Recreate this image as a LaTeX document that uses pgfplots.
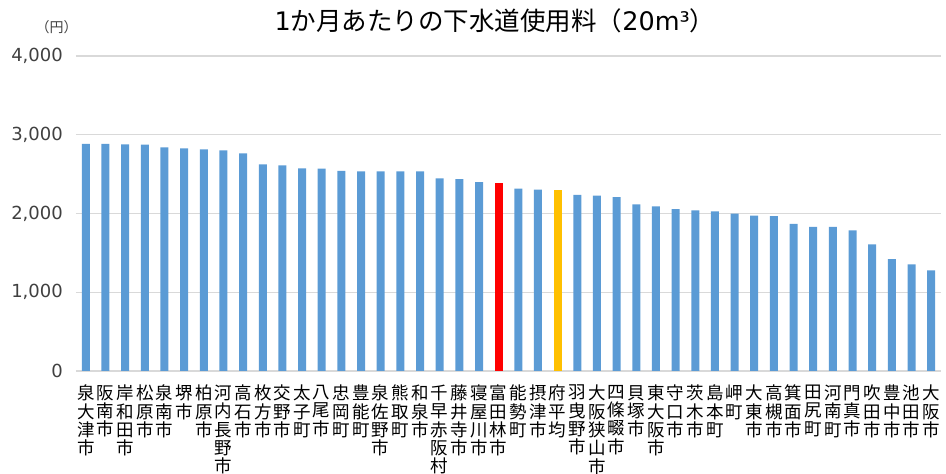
\documentclass[border=0pt]{standalone}
\usepackage{pgfplots}
\pgfplotsset{compat=1.18}
\usepackage{fontspec}
\setmainfont{Noto Sans CJK JP}
\newfontfamily\numfont{DejaVu Sans}
\definecolor{barblue}{HTML}{5B9BD5}
\definecolor{barred}{HTML}{FF0000}
\definecolor{baryellow}{HTML}{FFC000}
\definecolor{gridgray}{HTML}{D9D9D9}
\definecolor{txt}{HTML}{404040}
\begin{document}
\begin{tikzpicture}[x=1pt,y=1pt]
\path[use as bounding box] (0,0) rectangle (946,474);
\node[font=\fontsize{25.5}{28}\selectfont, text=black, inner sep=0pt] at (495,453) {{\numfont 1}か月あたりの下水道使用料（{\numfont 20m³}）};
\node[font=\fontsize{14}{16}\selectfont, text=txt, inner sep=0pt] at (56.5,446.5) {（円）};
\begin{axis}[
  at={(76pt,103pt)}, anchor=south west,
  scale only axis, width=865pt, height=315pt,
  xmin=-0.5, xmax=43.5, ymin=0, ymax=4000,
  ybar, bar width=8pt, bar shift=0pt,
  axis line style={draw=none},
  major tick length=0pt, tick style={draw=none},
  ymajorgrids, grid style={draw=gridgray, line width=1.2pt},
  ytick={0,1000,2000,3000,4000},
  yticklabels={0,{1,000},{2,000},{3,000},{4,000}},
  yticklabel style={font=\numfont\fontsize{18}{20}\selectfont, text=txt, anchor=east, inner sep=0pt, xshift=-13pt},
  xtick={0,...,43},
  xticklabels={{泉\\大\\津\\市},{阪\\南\\市},{岸\\和\\田\\市},{松\\原\\市},{泉\\南\\市},{堺\\市},{柏\\原\\市},{河\\内\\長\\野\\市},{高\\石\\市},{枚\\方\\市},{交\\野\\市},{太\\子\\町},{八\\尾\\市},{忠\\岡\\町},{豊\\能\\町},{泉\\佐\\野\\市},{熊\\取\\町},{和\\泉\\市},{千\\早\\赤\\阪\\村},{藤\\井\\寺\\市},{寝\\屋\\川\\市},{富\\田\\林\\市},{能\\勢\\町},{摂\\津\\市},{府\\平\\均},{羽\\曳\\野\\市},{大\\阪\\狭\\山\\市},{四\\條\\畷\\市},{貝\\塚\\市},{東\\大\\阪\\市},{守\\口\\市},{茨\\木\\市},{島\\本\\町},{岬\\町},{大\\東\\市},{高\\槻\\市},{箕\\面\\市},{田\\尻\\町},{河\\南\\町},{門\\真\\市},{吹\\田\\市},{豊\\中\\市},{池\\田\\市},{大\\阪\\市}},
  xticklabel style={font=\fontsize{17.5}{18.3}\selectfont, text=black, align=center, anchor=north, inner sep=0pt, yshift=-14pt},
  clip=false,
]
\addplot[fill=barblue, draw=none] table[x=i, y=v] {
i v
0 2883
1 2883
2 2879
3 2874
4 2841
5 2828
6 2815
7 2803
8 2764
9 2625
10 2612
11 2574
12 2569
13 2540
14 2536
15 2536
16 2536
17 2536
18 2447
19 2435
20 2400
22 2315
23 2302
25 2235
26 2226
27 2209
28 2117
29 2092
30 2057
31 2040
32 2028
33 1997
34 1972
35 1968
36 1867
37 1829
38 1829
39 1787
40 1609
41 1422
42 1355
43 1279
};
\addplot[fill=barred, draw=none] table[x=i, y=v] {
i v
21 2387
};
\addplot[fill=baryellow, draw=none] table[x=i, y=v] {
i v
24 2298
};
\end{axis}
\end{tikzpicture}
\end{document}
